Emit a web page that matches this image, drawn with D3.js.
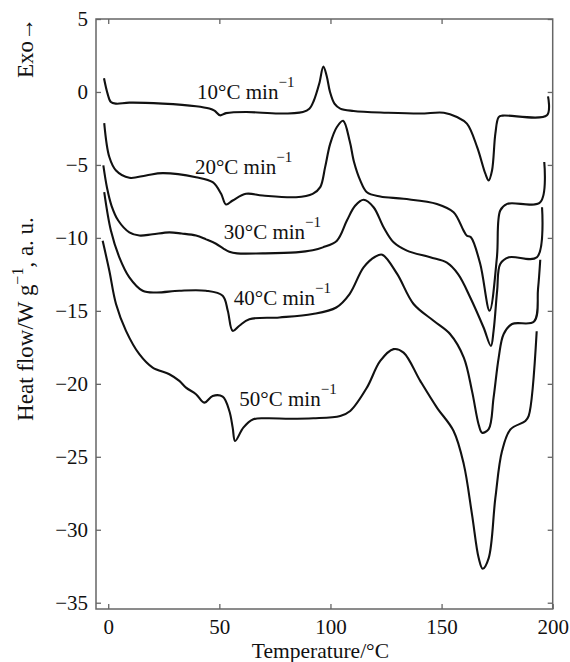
<!DOCTYPE html>
<html>
<head>
<meta charset="utf-8">
<script src="https://cdn.jsdelivr.net/npm/d3@7"></script>
<style>
  body { margin: 0; background: #fff; }
  svg text { font-family: "Liberation Serif", "Times New Roman", serif; fill: #111; }
</style>
</head>
<body>
<div id="chart"></div>
<script>
// DSC traces, [temperature °C, heat flow W/g]
const curve10 = [
  [-1.9, 0.94], [-0.3, -0.11], [1.2, -0.69], [3.5, -0.8], [9.5, -0.73], [24.5, -0.8],
  [39.5, -0.98], [45.5, -1.14], [47.8, -1.28], [50.3, -1.6], [53, -1.45], [62, -1.37],
  [77, -1.48], [87.6, -1.37], [90.5, -1.15], [92.5, -0.6], [95, 0.6], [96.8, 1.75],
  [98.3, 1.1], [99.8, 0.0], [101.8, -0.8], [104.4, -1.14], [110.4, -1.3], [125.4, -1.42],
  [140.4, -1.48], [151, -1.42], [156.9, -1.72], [161.4, -2.17], [166, -3.78], [169.7, -5.6],
  [171.2, -6.06], [172.7, -5.38], [174.2, -2.86], [175.7, -1.72], [177.5, -1.62],
  [197.4, -1.6], [197.9, -0.3]
];
const curve20 = [
  [-1.8, -2.13], [0.5, -4.46], [3.5, -5.38], [9.5, -5.88], [17, -5.72], [24.5, -5.56],
  [39.5, -5.84], [47, -6.18], [50.8, -6.98], [53, -7.71], [56, -7.44], [62, -6.98],
  [69.5, -7.1], [84.5, -7.21], [92, -6.98], [95.4, -6.52], [97.6, -5.15], [99.9, -3.54],
  [102.9, -2.4], [105.7, -1.98], [108.7, -3.4], [110.6, -4.8], [113.4, -6.06], [116.4, -6.87],
  [122.4, -7.16], [132.9, -7.32], [147.9, -7.67], [155.4, -8.24], [159.9, -9.5],
  [161.4, -9.85], [163.2, -9.96], [167.4, -11.79], [171.6, -14.99], [174.9, -11.33],
  [176.4, -8.12], [179.5, -7.67], [194.4, -7.55], [196.2, -4.8]
];
const curve30 = [
  [-2.2, -5.03], [-0.5, -6.6], [1.5, -7.8], [4.5, -8.81], [9.5, -9.62], [14, -9.84],
  [20, -9.75], [27.5, -9.62], [33, -9.7], [39.5, -9.84], [44, -10.1], [48.5, -10.4],
  [52, -10.75], [54.5, -10.95], [58, -11.06], [69.5, -11.06], [84.5, -10.99], [92, -10.85],
  [96.6, -10.65], [102.9, -10.19], [107.4, -8.81], [111.1, -7.8], [114.9, -7.39],
  [119.4, -7.9], [123.9, -9.27], [128.4, -10.3], [134.4, -10.87], [144.9, -11.33],
  [152.4, -11.7], [157.5, -12.5], [162.9, -14.08], [168.9, -16.14], [172.2, -17.4],
  [173.4, -16.37], [175, -13.62], [176.4, -11.79], [180.3, -11.33], [192.9, -11.33],
  [195.2, -7.9]
];
const curve40 = [
  [-1.8, -6.87], [1.2, -9.5], [5, -11.33], [9.5, -12.7], [15.5, -13.62], [21.5, -13.74],
  [32, -13.62], [44, -13.62], [51.5, -13.96], [53.8, -14.99], [56, -16.37], [59, -16.02],
  [63.5, -15.57], [77, -15.45], [92, -15.22], [102.6, -14.77], [108.6, -13.85],
  [114.9, -12.02], [120.1, -11.29], [123.3, -11.15], [130, -12.47], [137.4, -14.53],
  [146.4, -15.68], [153.9, -16.6], [160, -18.2], [163.7, -20.5], [166.7, -22.8],
  [168.2, -23.35], [171.2, -23.1], [173.4, -20.95], [175.7, -18.2], [177.9, -16.6],
  [181.7, -15.9], [191.6, -15.73], [193.4, -13.5], [194.4, -11.5]
];
const curve50 = [
  [-2.5, -10.2], [0.5, -12.25], [3.5, -14.53], [8, -16.37], [14, -17.97], [20, -18.89],
  [27.5, -19.34], [32, -19.8], [35, -20.26], [39.5, -20.71], [43.2, -21.29], [47, -20.83],
  [51.5, -20.88], [54.5, -21.86], [56, -23.0], [57.1, -23.92], [60.8, -23.0], [65.3, -22.43],
  [71.3, -22.36], [81.8, -22.39], [92.3, -22.36], [104.4, -22.2], [108.9, -21.86],
  [116.4, -20.26], [122.4, -18.43], [128.4, -17.62], [132.9, -17.86], [140.4, -19.8],
  [147.9, -21.63], [155.4, -23.23], [160, -25.52], [163.7, -28.96], [166.7, -31.94],
  [168.5, -32.67], [171.2, -31.94], [174.2, -27.82], [177.2, -24.61], [181, -23.12],
  [187.7, -22.55], [189.2, -22.2], [192.8, -16.4]
];

const curves = [curve10, curve20, curve30, curve40, curve50];
const rateLabels = ["10", "20", "30", "40", "50"];
// where each rate label sits (T, heat flow at baseline)
const labelT = [40, 39, 52, 56.5, 59];
const labelV = [-0.5, -5.6, -10.1, -14.6, -21.5];

const xTicks = [0, 50, 100, 150, 200];
const yTicks = [5, 0, -5, -10, -15, -20, -25, -30, -35];

const W = 570, H = 662, pad = { t: 19, r: 17.3, b: 53, l: 96 };

const svg = d3.select("#chart").append("svg")
  .attr("width", W).attr("height", H);

const x = d3.scaleLinear().domain([-5.5, 200]).range([pad.l, W - pad.r]);
const y = d3.scaleLinear().domain([-35.43, 5]).range([H - pad.b, pad.t]);

const fmt = d3.format("d");

// axes, ticks pointing inwards
const axisColor = "#666";
const gx = svg.append("g").attr("transform", `translate(0,${H - pad.b})`)
  .call(d3.axisBottom(x).tickValues(xTicks).tickSizeInner(-5).tickSizeOuter(0).tickPadding(10).tickFormat(fmt));
const gy = svg.append("g").attr("transform", `translate(${pad.l},0)`)
  .call(d3.axisLeft(y).tickValues(yTicks).tickSizeInner(-5).tickSizeOuter(0).tickPadding(8).tickFormat(fmt));
const gt = svg.append("g").attr("transform", `translate(0,${pad.t})`)
  .call(d3.axisTop(x).tickValues(xTicks.slice(0, 4)).tickSizeInner(-5).tickSizeOuter(0).tickFormat(""));
const gr = svg.append("g").attr("transform", `translate(${W - pad.r},0)`)
  .call(d3.axisRight(y).tickValues(yTicks).tickSizeInner(-5).tickSizeOuter(0).tickFormat(""));

[gx, gy, gt, gr].forEach(g => {
  g.select(".domain").remove();
  g.selectAll("line").attr("stroke", axisColor).attr("stroke-width", 1.3);
  g.selectAll("text").attr("font-size", 21)
    .attr("font-family", "Liberation Serif, Times New Roman, serif").attr("fill", "#111");
});

svg.append("rect")
  .attr("x", pad.l).attr("y", pad.t)
  .attr("width", W - pad.l - pad.r).attr("height", H - pad.t - pad.b)
  .attr("fill", "none").attr("stroke", axisColor).attr("stroke-width", 1.5);

// curves
const line = d3.line()
  .x(d => x(d[0])).y(d => y(d[1]))
  .curve(d3.curveCatmullRom.alpha(0.5));

svg.append("g").selectAll("path").data(curves).join("path")
  .attr("d", line)
  .attr("fill", "none").attr("stroke", "#111").attr("stroke-width", 2.1)
  .attr("stroke-linejoin", "round");

// rate labels
const lbl = svg.append("g").selectAll("text").data(rateLabels).join("text")
  .attr("x", (d, i) => x(labelT[i])).attr("y", (d, i) => y(labelV[i]))
  .attr("font-size", 21);
lbl.append("tspan").text(d => `${d}°C min`);
lbl.append("tspan").attr("dy", -12).attr("font-size", 15).text("\u22121");

// axis titles
svg.append("text")
  .attr("x", x(95.5)).attr("y", 657.5)
  .attr("text-anchor", "middle").attr("font-size", 21.5)
  .text("Temperature/°C");

const yl = svg.append("text")
  .attr("transform", "translate(33,319) rotate(-90)")
  .attr("text-anchor", "middle").attr("font-size", 23);
yl.append("tspan").text("Heat flow/W g");
yl.append("tspan").attr("dy", -10).attr("font-size", 16).text("\u22121");
yl.append("tspan").attr("dy", 10).text(", a. u.");

svg.append("text")
  .attr("transform", "translate(33,48) rotate(-90)")
  .attr("text-anchor", "middle").attr("font-size", 23)
  .text("Exo→");
</script>
</body>
</html>
